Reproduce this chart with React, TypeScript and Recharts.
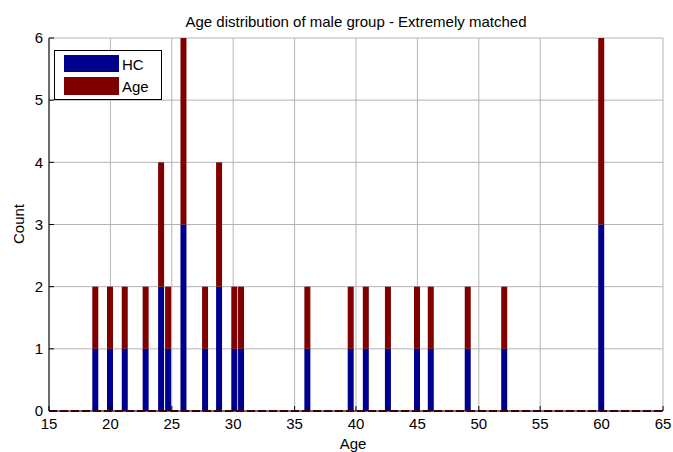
import React from 'react';
import { BarChart, Bar, XAxis, YAxis, CartesianGrid, ReferenceLine } from 'recharts';

const ageBins = [18.8, 20.0, 21.2, 22.9, 24.16, 24.73, 25.98, 27.74, 28.88, 30.12, 30.67, 36.07, 39.6, 40.83, 42.63, 45.0, 46.12, 49.13, 52.1, 60.0];
const hcCounts = [1, 1, 1, 1, 2, 1, 3, 1, 2, 1, 1, 1, 1, 1, 1, 1, 1, 1, 1, 3];
const ageCounts = [1, 1, 1, 1, 2, 1, 3, 1, 2, 1, 1, 1, 1, 1, 1, 1, 1, 1, 1, 3];
const xTicks = [15, 20, 25, 30, 35, 40, 45, 50, 55, 60, 65];
const yTicks = [0, 1, 2, 3, 4, 5, 6];

const data = ageBins.map((x, i) => ({ x, HC: hcCounts[i], Age: ageCounts[i] }));

const FONT = '"Liberation Sans", Arial, sans-serif';
const BLUE = '#00008f';
const RED = '#800000';

export default function App() {
  const tickStyle = { fontSize: 15, fill: '#000', fontFamily: FONT };
  return (
    <div style={{ position: 'absolute', left: 0, top: 0, width: 673, height: 452, background: '#fff', fontFamily: FONT }}>
      <BarChart width={673} height={452} data={data} margin={{ top: 38, right: 10, bottom: 0, left: 0 }} barSize={6}>
        <CartesianGrid stroke="#b4b4b4" strokeWidth={1} />
        <XAxis
          dataKey="x"
          type="number"
          domain={[15, 65]}
          ticks={xTicks}
          allowDataOverflow
          height={41}
          stroke="#000"
          tickSize={-5}
          tickMargin={12}
          tick={tickStyle}
          interval={0}
        />
        <XAxis
          xAxisId="top"
          orientation="top"
          dataKey="x"
          type="number"
          domain={[15, 65]}
          ticks={xTicks}
          allowDataOverflow
          height={0}
          stroke="#000"
          tickSize={-5}
          tickFormatter={() => ''}
          interval={0}
        />
        <YAxis
          type="number"
          domain={[0, 6]}
          ticks={yTicks}
          allowDataOverflow
          width={49}
          stroke="#000"
          tickSize={-5}
          tickMargin={11}
          tick={tickStyle}
          interval={0}
        />
        <YAxis
          yAxisId="right"
          orientation="right"
          type="number"
          domain={[0, 6]}
          ticks={yTicks}
          allowDataOverflow
          width={0}
          stroke="#000"
          tickSize={-5}
          tickFormatter={() => ''}
          interval={0}
        />
        <Bar dataKey="HC" stackId="s" fill={BLUE} isAnimationActive={false} />
        <Bar dataKey="Age" stackId="s" fill={RED} isAnimationActive={false} />
        <ReferenceLine y={0} stroke={RED} strokeWidth={2} strokeDasharray="8 3" />
      </BarChart>

      <div style={{ position: 'absolute', left: 356, top: 21, transform: 'translate(-50%,-50%)', fontSize: 15, whiteSpace: 'nowrap', color: '#000' }}>
        Age distribution of male group - Extremely matched
      </div>
      <div style={{ position: 'absolute', left: 18, top: 224, transform: 'translate(-50%,-50%) rotate(-90deg)', fontSize: 15, whiteSpace: 'nowrap', color: '#000' }}>
        Count
      </div>
      <div style={{ position: 'absolute', left: 353, top: 443, transform: 'translate(-50%,-50%)', fontSize: 15, lineHeight: '17px', whiteSpace: 'nowrap', color: '#000' }}>
        Age
      </div>

      <div style={{ position: 'absolute', left: 54, top: 50, width: 106, height: 48, border: '1px solid #000', background: '#fff', fontSize: 15, color: '#000' }}>
        <div style={{ position: 'absolute', left: 9, top: 4, width: 55, height: 17, background: BLUE }} />
        <div style={{ position: 'absolute', left: 67, top: 13, transform: 'translateY(-50%)', lineHeight: '17px' }}>HC</div>
        <div style={{ position: 'absolute', left: 9, top: 26, width: 55, height: 18, background: RED }} />
        <div style={{ position: 'absolute', left: 67, top: 35, transform: 'translateY(-50%)', lineHeight: '17px' }}>Age</div>
      </div>
    </div>
  );
}
